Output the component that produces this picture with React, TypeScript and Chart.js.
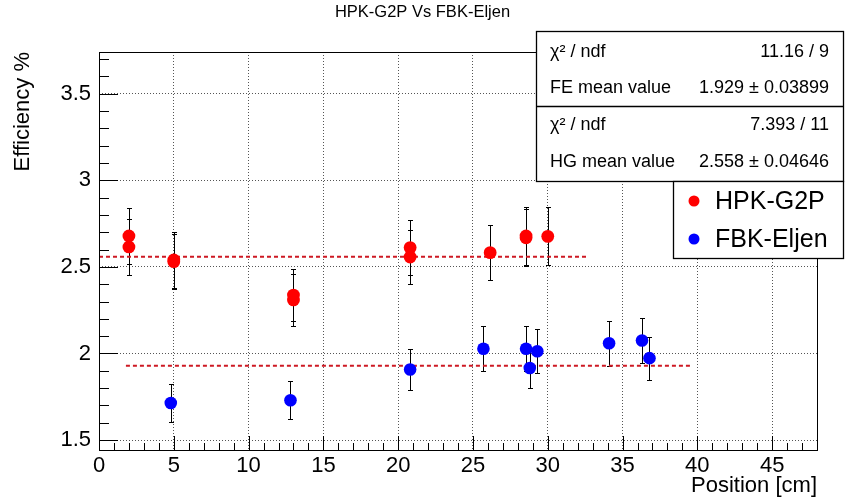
import React, { useEffect, useRef } from "react";
import { Chart, registerables } from "chart.js";

Chart.register(...registerables);

// ---------- data ----------
const TITLE = "HPK-G2P Vs FBK-Eljen";
const X_TITLE = "Position [cm]";
const Y_TITLE = "Efficiency %";

const hpkLabel = "HPK-G2P";
const hpkX = [2, 2, 5, 5, 13, 13, 20.8, 20.8, 26.15, 28.55, 28.55, 30];
const hpkY = [2.678, 2.615, 2.54, 2.53, 2.337, 2.309, 2.611, 2.557, 2.582, 2.678, 2.668, 2.676];
const hpkErr = [0.16, 0.16, 0.16, 0.16, 0.15, 0.15, 0.16, 0.157, 0.16, 0.17, 0.165, 0.168];

const fbkLabel = "FBK-Eljen";
const fbkX = [4.8, 12.8, 20.8, 25.7, 28.55, 28.8, 29.3, 34.1, 36.3, 36.8];
const fbkY = [1.714, 1.73, 1.908, 2.027, 2.027, 1.916, 2.013, 2.059, 2.075, 1.973];
const fbkErr = [0.11, 0.11, 0.12, 0.13, 0.13, 0.113, 0.127, 0.13, 0.13, 0.125];

const hgMean = 2.558;
const hgFitRange = [0, 32.6];
const feMean = 1.929;
const feFitRange = [1.8, 39.7];

const xTicks = [0, 5, 10, 15, 20, 25, 30, 35, 40, 45];
const xTickLabels = ["0", "5", "10", "15", "20", "25", "30", "35", "40", "45"];
const yTicks = [1.5, 2, 2.5, 3, 3.5];
const yTickLabels = ["1.5", "2", "2.5", "3", "3.5"];
const X_MIN = 0;
const X_MAX = 48;
const Y_MIN = 1.443;
const Y_MAX = 3.74;

const statsLeft = ["χ² / ndf", "FE mean value", "χ² / ndf", "HG mean value"];
const statsRight = ["11.16 / 9", "1.929 ± 0.03899", "7.393 / 11", "2.558 ± 0.04646"];

// ---------- styles ----------
const FONT = "'Liberation Sans', Arial, Helvetica, sans-serif";
const RED = "rgb(255,0,0)";
const BLUE = "rgb(0,0,255)";
const FIT_COLOR = "rgb(205,25,35)";

const decorPlugin = {
  id: "rootDecor",
  beforeDatasetsDraw(chart: any) {
    const { ctx, scales } = chart;
    const xs = scales.x;
    const ys = scales.y;
    ctx.save();
    ctx.strokeStyle = "#000";
    ctx.lineWidth = 1;
    chart.data.datasets.forEach((ds: any) => {
      if (!ds.errorBars) return;
      ds.data.forEach((p: any, i: number) => {
        const e = ds.errorBars[i];
        const px = Math.round(xs.getPixelForValue(p.x)) + 0.5;
        const yt = Math.round(ys.getPixelForValue(p.y + e)) + 0.5;
        const yb = Math.round(ys.getPixelForValue(p.y - e)) + 0.5;
        ctx.beginPath();
        ctx.moveTo(px, yt);
        ctx.lineTo(px, yb);
        ctx.moveTo(px - 2.5, yt);
        ctx.lineTo(px + 2.5, yt);
        ctx.moveTo(px - 2.5, yb);
        ctx.lineTo(px + 2.5, yb);
        ctx.stroke();
      });
    });
    ctx.restore();
  },
  afterDatasetsDraw(chart: any) {
    const { ctx, chartArea, scales } = chart;
    const { left, right, top, bottom } = chartArea;
    const xs = scales.x;
    const ys = scales.y;
    ctx.save();
    ctx.strokeStyle = "#000";
    ctx.lineWidth = 1;
    ctx.beginPath();
    for (let v = Math.ceil(X_MIN); v <= X_MAX; v++) {
      const px = Math.round(xs.getPixelForValue(v)) + 0.5;
      const len = v % 5 === 0 ? 14 : 7;
      ctx.moveTo(px, bottom);
      ctx.lineTo(px, bottom - len);
    }
    for (let k = Math.ceil(Y_MIN * 10 - 1e-6); k <= Math.floor(Y_MAX * 10 + 1e-6); k++) {
      const py = Math.round(ys.getPixelForValue(k / 10)) + 0.5;
      const len = k % 5 === 0 ? 19 : 10;
      ctx.moveTo(left, py);
      ctx.lineTo(left + len, py);
    }
    ctx.stroke();
    ctx.strokeRect(Math.round(left) + 0.5, Math.round(top) + 0.5, Math.round(right - left), Math.round(bottom - top));
    ctx.restore();
  },
  afterDraw(chart: any) {
    const { ctx } = chart;
    ctx.save();
    const sx = 536, sy = 31, sw = 307, sh = 150, mid = 106;
    ctx.fillStyle = "#fff";
    ctx.fillRect(sx, sy, sw, sh);
    ctx.strokeStyle = "#000";
    ctx.lineWidth = 1.3;
    ctx.strokeRect(sx + 0.5, sy + 0.5, sw, sh);
    ctx.beginPath();
    ctx.moveTo(sx, mid + 0.5);
    ctx.lineTo(sx + sw, mid + 0.5);
    ctx.stroke();
    ctx.fillStyle = "#000";
    ctx.font = `18px ${FONT}`;
    ctx.textBaseline = "middle";
    const rowsY = [52, 88.5, 125, 162];
    statsLeft.forEach((t, i) => {
      ctx.textAlign = "left";
      ctx.fillText(t, 550, rowsY[i]);
    });
    statsRight.forEach((t, i) => {
      ctx.textAlign = "right";
      ctx.fillText(t, 829, rowsY[i]);
    });
    const lx = 673, ly = 181, lw = 170, lh = 77;
    ctx.fillStyle = "#fff";
    ctx.fillRect(lx, ly, lw, lh);
    ctx.strokeRect(lx + 0.5, ly + 0.5, lw, lh);
    const items = [
      { label: hpkLabel, color: RED, y: 201 },
      { label: fbkLabel, color: BLUE, y: 239 },
    ];
    ctx.font = `25px ${FONT}`;
    ctx.textAlign = "left";
    items.forEach((it) => {
      ctx.fillStyle = it.color;
      ctx.beginPath();
      ctx.arc(694, it.y, 5.5, 0, Math.PI * 2);
      ctx.fill();
      ctx.fillStyle = "#000";
      ctx.fillText(it.label, 715, it.y + 1);
    });
    ctx.restore();
  },
};

export default function App() {
  const canvasRef = useRef<HTMLCanvasElement | null>(null);

  useEffect(() => {
    document.body.style.margin = "0";
    const canvas = canvasRef.current;
    if (!canvas) return;
    const tickFont = { family: FONT, size: 22, weight: "normal" as const };
    const chart = new Chart(canvas, {
      type: "scatter",
      data: {
        datasets: [
          {
            label: hpkLabel,
            data: hpkX.map((x, i) => ({ x, y: hpkY[i] })),
            backgroundColor: RED,
            borderColor: RED,
            borderWidth: 0,
            pointRadius: 6.4,
            order: 1,
            errorBars: hpkErr,
          } as any,
          {
            label: fbkLabel,
            data: fbkX.map((x, i) => ({ x, y: fbkY[i] })),
            backgroundColor: BLUE,
            borderColor: BLUE,
            borderWidth: 0,
            pointRadius: 6.3,
            order: 1,
            errorBars: fbkErr,
          } as any,
          {
            label: "HG fit",
            data: hgFitRange.map((x) => ({ x, y: hgMean })),
            showLine: true,
            borderColor: FIT_COLOR,
            borderWidth: 2,
            borderDash: [4, 3],
            pointRadius: 0,
            order: 2,
          },
          {
            label: "FE fit",
            data: feFitRange.map((x) => ({ x, y: feMean })),
            showLine: true,
            borderColor: FIT_COLOR,
            borderWidth: 2,
            borderDash: [4, 3],
            pointRadius: 0,
            order: 2,
          },
        ],
      },
      options: {
        responsive: false,
        animation: false,
        events: [],
        layout: { padding: { left: 0, right: 0, top: 0, bottom: 0 } },
        plugins: {
          legend: { display: false },
          tooltip: { enabled: false },
          title: {
            display: true,
            text: TITLE,
            color: "#000",
            font: { family: FONT, size: 16.5, weight: "normal" },
            padding: { top: 3, bottom: 29.2 },
          },
        },
        scales: {
          x: {
            type: "linear",
            min: X_MIN,
            max: X_MAX,
            afterBuildTicks: (s: any) => {
              s.ticks = xTicks.map((v) => ({ value: v }));
            },
            afterFit: (s: any) => {
              s.height = 54;
            },
            ticks: {
              color: "#000",
              font: tickFont,
              padding: 3,
              maxRotation: 0,
              autoSkip: false,
              callback: (_v: any, i: number) => xTickLabels[i],
            },
            grid: { color: "#555", lineWidth: 1, drawTicks: false },
            border: { display: false, dash: [1, 2] },
            title: {
              display: true,
              text: X_TITLE,
              align: "end",
              color: "#000",
              font: tickFont,
              padding: { top: 0, bottom: 5 },
            },
          },
          y: {
            type: "linear",
            min: Y_MIN,
            max: Y_MAX,
            afterBuildTicks: (s: any) => {
              s.ticks = yTicks.map((v) => ({ value: v }));
            },
            afterFit: (s: any) => {
              s.width = 99;
            },
            ticks: {
              color: "#000",
              font: tickFont,
              padding: 8,
              autoSkip: false,
              callback: (_v: any, i: number) => yTickLabels[i],
            },
            grid: { color: "#555", lineWidth: 1, drawTicks: false },
            border: { display: false, dash: [1, 2] },
            title: {
              display: true,
              text: Y_TITLE,
              align: "end",
              color: "#000",
              font: tickFont,
              padding: { top: 10, bottom: 0 },
            },
          },
          yRightSpace: {
            type: "linear",
            position: "right",
            display: true,
            min: 0,
            max: 1,
            grid: { display: false, drawTicks: false },
            border: { display: false },
            ticks: { display: false },
            afterFit: (s: any) => {
              s.width = 28;
            },
          },
        },
      } as any,
      plugins: [decorPlugin],
    });
    return () => chart.destroy();
  }, []);

  return (
    <div style={{ width: 845, height: 504, background: "#fff" }}>
      <canvas ref={canvasRef} width={845} height={504} style={{ display: "block" }} />
    </div>
  );
}
